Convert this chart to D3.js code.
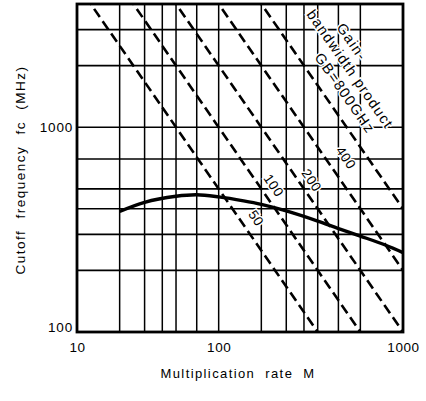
<!DOCTYPE html>
<html>
<head>
<meta charset="utf-8">
<script src="https://cdn.jsdelivr.net/npm/d3@7"></script>
<style>
  body { margin: 0; background: #fff; }
  svg { display: block; font-family: "Liberation Sans", Arial, sans-serif; }
</style>
</head>
<body>
<svg width="426" height="401"></svg>
<script>
// measured curve: multiplication rate M vs cutoff frequency fc (MHz)
const mValues  = [20, 30, 50, 70, 100, 150, 200, 300, 500, 700, 1000, 1500, 2000];
const fcValues = [388, 430, 460, 468, 457, 437, 420, 390, 348, 320, 294, 266, 244];

// gain-bandwidth product lines (GHz)
const gbValues = [50, 100, 200, 400, 800];
const gbLabels = ['50', '100', '200', '400'];
const gbLabelM = [152, 208, 390, 629];
const gbLabelOff = [14, 12, 11, 17];

const noteLines = ['Gain-', 'bandwidth product', 'GB=800GHz'];
const noteM = [430, 524, 612];
const noteOff = [53, 36, 18];

const xGrid = [20, 30, 40, 50, 70, 100, 200, 300, 400, 500, 700, 1000];
const yGrid = [200, 300, 400, 500, 700, 1000, 2000, 3000];
const xTickValues = [10, 100, 2000];
const xTickLabels = ['10', '100', '1000'];
const yTickValues = [100, 1000];
const yTickLabels = ['100', '1000'];

const svg = d3.select('svg');
const pL = 77, pR = 403, pT = 4, pB = 332;

const x = d3.scaleLog().domain([10, 2000]).range([pL, pR]);
const y = d3.scaleLog().domain([100, 4000]).range([pB, pT]);

svg.append('rect').attr('width', 426).attr('height', 401).attr('fill', '#fff');

svg.append('clipPath').attr('id', 'plot')
  .append('rect').attr('x', pL).attr('y', pT)
  .attr('width', pR - pL).attr('height', pB - pT);

// grid
svg.append('g').selectAll('line').data(xGrid).join('line')
  .attr('x1', d => x(d)).attr('x2', d => x(d))
  .attr('y1', pT).attr('y2', pB)
  .attr('stroke', '#000').attr('stroke-width', 1.5);
svg.append('g').selectAll('line').data(yGrid).join('line')
  .attr('x1', pL).attr('x2', pR)
  .attr('y1', d => y(d)).attr('y2', d => y(d))
  .attr('stroke', '#000').attr('stroke-width', 1.7);

// dashed GB lines: fc = GB*1000 / M
const plot = svg.append('g').attr('clip-path', 'url(#plot)');
const gbLine = d3.line().x(d => x(d[0])).y(d => y(d[1]));
plot.selectAll('path.gb').data(gbValues).join('path')
  .attr('class', 'gb')
  .attr('d', g => gbLine([[5, g * 1000 / 5], [4000, g * 1000 / 4000]]))
  .attr('fill', 'none').attr('stroke', '#000')
  .attr('stroke-width', 2.6).attr('stroke-dasharray', '10,5');

// measured curve
plot.append('path')
  .datum(mValues.map((m, i) => [m, fcValues[i]]))
  .attr('d', d3.line().x(d => x(d[0])).y(d => y(d[1])).curve(d3.curveCatmullRom))
  .attr('fill', 'none').attr('stroke', '#000').attr('stroke-width', 3.4);

// frame
svg.append('rect').attr('x', pL).attr('y', pT)
  .attr('width', pR - pL).attr('height', pB - pT)
  .attr('fill', 'none').attr('stroke', '#000').attr('stroke-width', 2.8);

// angle of GB lines on screen
const ang = Math.atan2(y(10) - y(1000), x(1000) - x(10));
const deg = ang * 180 / Math.PI;
const nx = Math.sin(ang), ny = -Math.cos(ang);

function onLine(g, m, off) {
  return [x(m) + nx * off, y(g * 1000 / m) + ny * off];
}

const labelStyle = (sel, size, ls) => sel
  .attr('text-anchor', 'middle').attr('dominant-baseline', 'central')
  .attr('font-size', size).attr('letter-spacing', ls).attr('fill', '#000')
  .attr('stroke', '#fff').attr('stroke-width', 3).attr('paint-order', 'stroke');

svg.append('g').selectAll('text').data(gbLabels).join('text')
  .attr('transform', (d, i) => {
    const p = onLine(gbValues[i], gbLabelM[i], gbLabelOff[i]);
    return `translate(${p[0]},${p[1]}) rotate(${deg})`;
  })
  .text(d => d)
  .call(labelStyle, 13.5, 0.5);

svg.append('g').selectAll('text').data(noteLines).join('text')
  .attr('transform', (d, i) => {
    const p = onLine(800, noteM[i], noteOff[i]);
    return `translate(${p[0]},${p[1]}) rotate(${deg})`;
  })
  .text(d => d)
  .call(labelStyle, 14.5, 1.3);

// axes
const xAxis = svg.append('g').attr('transform', `translate(0,${pB})`)
  .call(d3.axisBottom(x).tickValues(xTickValues)
    .tickFormat((d, i) => xTickLabels[i]).tickSize(0).tickPadding(10));
xAxis.select('.domain').remove();
xAxis.selectAll('text').attr('font-size', 13.5).attr('letter-spacing', 0.6)
  .attr('font-family', 'inherit').attr('fill', '#000');

const yAxis = svg.append('g').attr('transform', `translate(${pL},0)`)
  .call(d3.axisLeft(y).tickValues(yTickValues)
    .tickFormat((d, i) => yTickLabels[i]).tickSize(0).tickPadding(4));
yAxis.select('.domain').remove();
yAxis.selectAll('text').attr('font-size', 13.5).attr('letter-spacing', 0.8)
  .attr('font-family', 'inherit').attr('fill', '#000')
  .attr('dy', d => d === 100 ? '-0.05em' : '0.32em');

svg.append('text')
  .attr('x', 238).attr('y', 373).attr('dominant-baseline', 'central')
  .attr('text-anchor', 'middle').attr('font-size', 13).attr('letter-spacing', 1.4)
  .attr('word-spacing', 5)
  .text('Multiplication rate M');

svg.append('text')
  .attr('transform', 'translate(20,170) rotate(-90)').attr('dominant-baseline', 'central')
  .attr('text-anchor', 'middle').attr('font-size', 13.5).attr('letter-spacing', 1.5)
  .attr('word-spacing', 6)
  .text('Cutoff frequency fc (MHz)');
</script>
</body>
</html>
